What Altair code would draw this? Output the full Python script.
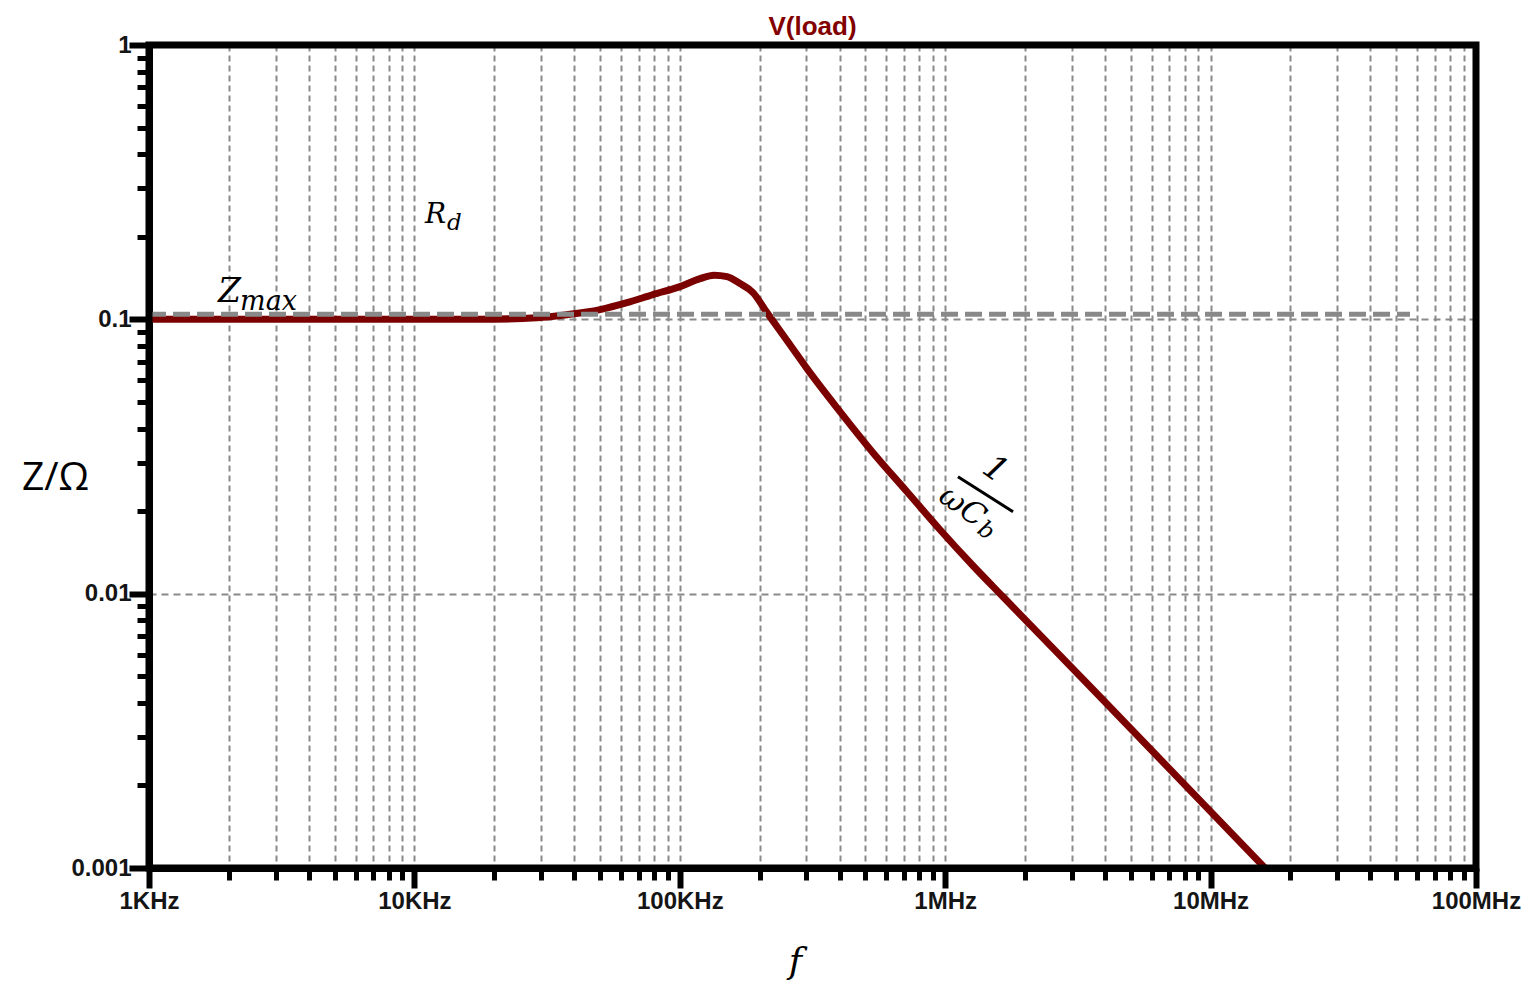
import altair as alt
import pandas as pd

# ---- curve data ----
freq_hz = [1000, 3700, 17670, 28970, 37580, 50040, 63240, 79250, 100200,
           119200, 134600, 150600, 168600, 188700, 213100, 260200, 301500,
           401400, 534500, 717900, 955900, 1273000, 1651000, 3831000, 16030000]
z_ohm = [0.1, 0.1, 0.1, 0.1014, 0.104, 0.1085, 0.115, 0.1231, 0.1316,
         0.1407, 0.1449, 0.1431, 0.135, 0.1252, 0.1058, 0.0808, 0.0661,
         0.0461, 0.03265, 0.02352, 0.0171, 0.01264, 0.00974, 0.00421, 0.001]

# ---- Z_max reference level ----
zmax_level = [0.1043]
zmax_f_start = [1000]
zmax_f_end = [56400000]

# ---- axis labels ----
x_decades = [1000, 10000, 100000, 1000000, 10000000, 100000000]
x_labels = ["1KHz", "10KHz", "100KHz", "1MHz", "10MHz", "100MHz"]
y_decades = [0.001, 0.01, 0.1, 1]
y_labels = ["0.001", "0.01", "0.1", "1"]

# ---- plot title ----
title_text = ["V(load)"]
title_f = [316228]

# ---- annotation texts and their anchor points (data coordinates) ----
ann_text = ["Z", "max", "R", "d", "1", "ωC", "b"]
ann_f = [1820, 2203, 10960, 13270, 1540000, 1157000, 1424000]
ann_z = [0.116, 0.1085, 0.2253, 0.2124, 0.0283, 0.02074, 0.01696]

# fraction bar of 1/(ωC_b)
bar_f = [1117000]
bar_f2 = [1801000]
bar_z = [0.02669]
bar_z2 = [0.01989]

# ---- build tick lists ----
x_ticks = []
for d in x_decades[:-1]:
    for m in range(1, 10):
        x_ticks.append(d * m)
x_ticks.append(x_decades[-1])
y_ticks = []
for d in y_decades[:-1]:
    for m in range(1, 10):
        y_ticks.append(round(d * m, 6))
y_ticks.append(y_decades[-1])


def label_expr(vals, labs):
    e = "''"
    for v, l in zip(reversed(vals), reversed(labs)):
        e = f"datum.value == {v} ? '{l}' : ({e})"
    return e


def in_list(vals):
    return "indexof([" + ",".join(str(v) for v in vals) + "], datum.value) >= 0"


xt = in_list(x_decades)
yt = in_list(y_decades)
x_grid_test = f"datum.value > {x_decades[0]} && datum.value < {x_decades[-1]}"
y_grid_test = in_list(y_decades[1:-1])

W, H = 1327, 823
xscale = alt.Scale(type="log", domain=[1000, 100000000], nice=False)
yscale = alt.Scale(type="log", domain=[0.001, 1], nice=False)

x_axis = alt.Axis(
    values=x_ticks,
    labelExpr=label_expr(x_decades, x_labels),
    labelFlush=False, labelOverlap=False, labelBound=False,
    labelFont="Liberation Sans", labelFontWeight="bold", labelFontSize=24,
    labelColor="#151515", labelPadding=1,
    grid=True, gridColor="#8a8a8a", gridWidth=2, gridDash=[6, 4],
    gridOpacity={"condition": {"test": x_grid_test, "value": 1}, "value": 0},
    domainColor="black", domainWidth=7,
    tickColor="black",
    tickSize={"condition": {"test": xt, "value": 20}, "value": 12},
    tickWidth={"condition": {"test": xt, "value": 6}, "value": 5},
    title="f", titleFont="DejaVu Serif", titleFontStyle="italic",
    titleFontWeight="normal", titleFontSize=36, titleColor="black",
    titleX=646, titleY=104, titleAlign="center", titleBaseline="alphabetic",
)
y_axis = alt.Axis(
    values=y_ticks,
    labelExpr=label_expr(y_decades, y_labels),
    labelFlush=False, labelOverlap=False, labelBound=False,
    labelFont="Liberation Sans", labelFontWeight="bold", labelFontSize=24,
    labelColor="#151515", labelPadding=-2,
    grid=True, gridColor="#8a8a8a", gridWidth=2, gridDash=[7, 5],
    gridOpacity={"condition": {"test": y_grid_test, "value": 1}, "value": 0},
    domainColor="black", domainWidth=7,
    tickColor="black",
    tickSize={"condition": {"test": yt, "value": 20}, "value": 12},
    tickWidth={"condition": {"test": yt, "value": 6}, "value": 5},
    title="Z/Ω", titleFont="Open Sans", titleFontWeight="normal",
    titleFontSize=39, titleColor="black", titleAngle=0,
    titleX=-94, titleY=432, titleAlign="center", titleBaseline="middle",
)

curve_df = pd.DataFrame({"f": freq_hz, "z": z_ohm})
zmax_df = pd.DataFrame({"f0": zmax_f_start, "f1": zmax_f_end, "z": zmax_level})
ann_df = pd.DataFrame({"t": ann_text, "f": ann_f, "z": ann_z})
bar_df = pd.DataFrame({"f": bar_f, "f2": bar_f2, "z": bar_z, "z2": bar_z2})
title_df = pd.DataFrame({"t": title_text, "f": title_f})

curve = alt.Chart(curve_df).mark_line(
    color="#7b0000", strokeWidth=7, clip=True, strokeJoin="round",
    interpolate="monotone",
).encode(
    x=alt.X("f:Q", scale=xscale, axis=x_axis),
    y=alt.Y("z:Q", scale=yscale, axis=y_axis),
)

zmax = alt.Chart(zmax_df).mark_rule(
    color="#898989", strokeWidth=5, strokeDash=[17, 7]
).encode(
    x=alt.X("f0:Q", scale=xscale),
    x2="f1:Q",
    y=alt.Y("z:Q", scale=yscale),
)


def txt(i, size, align="left", baseline="alphabetic", angle=0):
    return alt.Chart(ann_df.iloc[[i]]).mark_text(
        font="DejaVu Serif", fontStyle="italic", fontSize=size, color="black",
        align=align, baseline=baseline, angle=angle,
    ).encode(
        x=alt.X("f:Q", scale=xscale),
        y=alt.Y("z:Q", scale=yscale),
        text="t:N",
    )


texts = [
    txt(0, 33),
    txt(1, 27),
    txt(2, 28),
    txt(3, 23),
    txt(4, 34, align="center", baseline="middle", angle=35),
    txt(5, 31, align="center", baseline="middle", angle=35),
    txt(6, 23, align="center", baseline="middle", angle=35),
]

bar = alt.Chart(bar_df).mark_rule(color="black", strokeWidth=3).encode(
    x=alt.X("f:Q", scale=xscale), x2="f2:Q",
    y=alt.Y("z:Q", scale=yscale), y2="z2:Q",
)

title = alt.Chart(title_df).mark_text(
    font="Liberation Sans", fontSize=26, fontWeight="bold", color="#820000",
    align="center", baseline="alphabetic", clip=False,
).encode(
    x=alt.X("f:Q", scale=xscale),
    y=alt.value(-10.5),
    text="t:N",
)

# plot frame drawn above grid and curve
frame = alt.Chart(title_df).mark_rect(
    fill="transparent", stroke="black", strokeWidth=7, strokeJoin="miter"
).encode(
    x=alt.value(0), x2=alt.value(W), y=alt.value(0), y2=alt.value(H),
)

chart = alt.layer(curve, zmax, bar, title, *texts, frame).properties(
    width=W, height=H,
    padding={"left": 141, "top": 37, "right": 45, "bottom": 112},
    autosize=alt.AutoSizeParams(type="none"),
).configure(background="white").configure_view(strokeOpacity=0)

chart.save("out.html", embed_options={"renderer": "svg", "actions": False})
